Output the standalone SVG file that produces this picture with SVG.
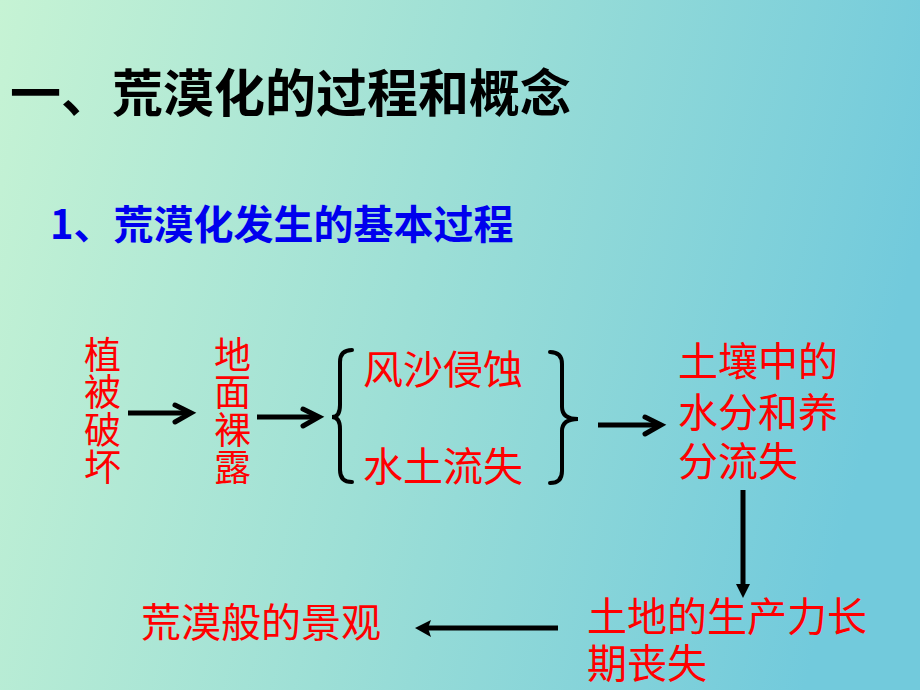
<svg xmlns="http://www.w3.org/2000/svg" width="920" height="690" viewBox="0 0 920 690">
<defs>
<linearGradient id="bg" gradientUnits="userSpaceOnUse" x1="0" y1="0" x2="920" y2="230">
<stop offset="0" stop-color="#c6f3d4"/>
<stop offset="0.5" stop-color="#9ddfd6"/>
<stop offset="1" stop-color="#72cadc"/>
</linearGradient>
<style>
.t{font-family:"Noto Sans CJK SC","Liberation Sans",sans-serif;}
.title{font-size:51px;fill:#000;font-weight:bold;}
.sub{font-size:40px;fill:#0000ee;font-weight:bold;}
.red{font-size:40px;fill:#ff0000;}
.vert{font-size:37px;fill:#ff0000;writing-mode:vertical-rl;letter-spacing:0.5px;}
.ln{stroke:#000;stroke-width:5;fill:none;stroke-linecap:butt;}
.chev{stroke:#000;stroke-width:5;fill:none;stroke-linecap:round;stroke-linejoin:miter;}
.brace{stroke:#000;stroke-width:4;fill:none;stroke-linecap:round;}
.head{fill:#000;}
</style>
</defs>
<rect x="0" y="0" width="920" height="690" fill="url(#bg)"/>

<g id="title"><text class="t title" x="10" y="112">一、荒漠化的过程和概念</text></g>
<g id="subtitle"><text class="t sub" x="50" y="239">1、荒漠化发生的基本过程</text></g>

<g id="node-vegetation">
<text class="t vert" x="102.5" y="336">植被破坏</text>
</g>
<g id="node-ground">
<text class="t vert" x="232.5" y="336">地面裸露</text>
</g>
<g id="node-erosion">
<path class="brace" d="M352,350 Q340,350 340,362 L340,405 Q340,417 332,417 Q340,417 340,429 L340,470 Q340,482 352,482"/>
<text class="t red" x="363" y="384">风沙侵蚀</text>
<text class="t red" x="363" y="481">水土流失</text>
<path class="brace" d="M550,352 Q562,352 562,364 L562,407 Q562,419 578,419 Q562,419 562,431 L562,471 Q562,483 550,483"/>
</g>
<g id="node-soil-loss">
<text class="t red" x="678" y="376">土壤中的<tspan x="678" dy="51">水分和养</tspan><tspan x="678" dy="49">分流失</tspan></text>
</g>
<g id="node-productivity">
<text class="t red" x="587" y="631">土地的生产力长<tspan x="587" dy="47">期丧失</tspan></text>
</g>
<g id="node-landscape">
<text class="t red" x="141" y="637">荒漠般的景观</text>
</g>

<g id="connectors">
<line class="ln" x1="128" y1="413" x2="190" y2="413"/>
<polyline class="chev" points="175,405 191,413 175,422"/>
<line class="ln" x1="257" y1="417" x2="318" y2="417"/>
<polyline class="chev" points="303,409 319,417 303,426"/>
<line class="ln" x1="598" y1="425" x2="660" y2="425"/>
<polyline class="chev" points="645,417 661,425 645,434"/>
<line class="ln" x1="743" y1="490" x2="743" y2="588"/>
<polygon class="head" points="736,584 750,584 743,598"/>
<line class="ln" x1="558" y1="628" x2="425" y2="628"/>
<polygon class="head" points="415,628 431,620 428,628 431,637"/>
</g>
</svg>
